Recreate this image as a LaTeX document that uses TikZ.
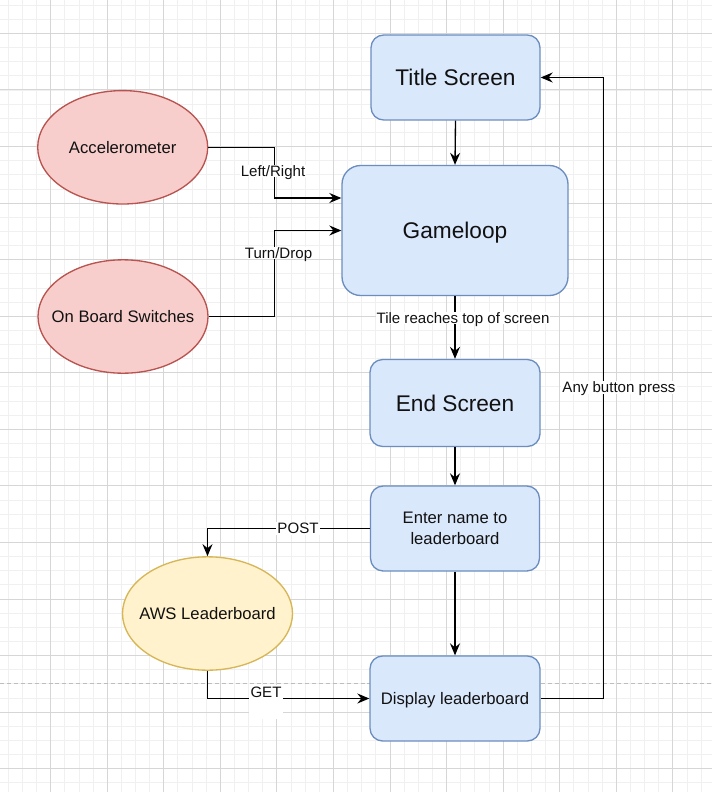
\documentclass[tikz,border=0pt]{standalone}
\usepackage{fontspec}
\setmainfont{Liberation Sans}
\usetikzlibrary{arrows.meta,shapes.geometric,calc}
\definecolor{bluefill}{HTML}{DAE8FC}
\definecolor{bluedraw}{HTML}{6C8EBF}
\definecolor{redfill}{HTML}{F8CECC}
\definecolor{reddraw}{HTML}{B85450}
\definecolor{yelfill}{HTML}{FFF2CC}
\definecolor{yeldraw}{HTML}{D6B656}
\definecolor{gridminor}{HTML}{F0F0F0}
\definecolor{gridmajor}{HTML}{D6D6D6}
\definecolor{pagebreak}{HTML}{BDBDBD}
\definecolor{txt}{HTML}{111111}
\begin{document}
\begin{tikzpicture}[x=0.75pt,y=-0.75pt,
  box/.style={draw=bluedraw, fill=bluefill, line width=1pt, rounded corners=9.5pt, inner sep=0pt, align=center, text=txt},
  bigtext/.style={font=\fontsize{17}{20}\selectfont, text height=12.2pt, text depth=0pt},
  midtext/.style={font=\fontsize{12.5}{16}\selectfont},
  oval/.style={ellipse, line width=1pt, inner sep=0pt, minimum width={170*0.75pt}, minimum height={113.4*0.75pt}, text=txt, font=\fontsize{12.5}{15}\selectfont, text height=9pt, text depth=0pt},
  conn/.style={line width=1pt, -{Stealth[length=9pt,width=7.5pt,inset=3pt]}},
  elabel/.style={fill=white, inner sep=0.75pt, text=txt, font=\fontsize{11.3}{13}\selectfont, text height=8.1pt, text depth=0pt},
  minorline/.style={draw=gridminor, line width=0.75pt},
  majorline/.style={draw=gridmajor, line width=0.75pt}
]
\useasboundingbox (0,0) rectangle (712,792);
\fill[white] (0,0) rectangle (712,792);
% grid
\foreach \i in {0,...,50} {\draw[minorline] ({8.3+14.14*\i},0) -- ({8.3+14.14*\i},792);}
\foreach \i in {0,...,56} {\draw[minorline] (0,{5.2+14.14*\i}) -- (712,{5.2+14.14*\i});}
\foreach \i in {-1,...,10} {\draw[majorline] ({107.3+56.56*\i},0) -- ({107.3+56.56*\i},792);}
\foreach \i in {-1,...,12} {\draw[majorline] (0,{90+56.56*\i}) -- (712,{90+56.56*\i});}
% page break
\draw[pagebreak, line width=0.9pt, dash pattern=on 3pt off 2.2pt] (0,683.5) -- (712,683.5);

% nodes
\node[box, bigtext, minimum width={169*0.75pt}, minimum height={85*0.75pt}] (title) at (455.5,77.5) {Title Screen};
\node[box, bigtext, rounded corners=14pt, minimum width={226*0.75pt}, minimum height={130*0.75pt}] (game) at (455,230.5) {Gameloop};
\node[box, bigtext, minimum width={170*0.75pt}, minimum height={87*0.75pt}] (endscr) at (455,403) {End Screen};
\node[box, midtext, minimum width={169*0.75pt}, minimum height={85*0.75pt}] (enter) at (455,528.5) {Enter name to\\leaderboard};
\node[box, midtext, text height=9pt, text depth=0pt, minimum width={170*0.75pt}, minimum height={85*0.75pt}] (disp) at (455,698.5) {Display leaderboard};
\node[oval, draw=reddraw, fill=redfill] (acc) at (122.7,147.3) {\makebox[0pt]{Accelerometer}};
\node[oval, draw=reddraw, fill=redfill] (sw) at (123,316.5) {\makebox[0pt]{On Board Switches}};
\node[oval, draw=yeldraw, fill=yelfill] (aws) at (207.5,613.5) {\makebox[0pt]{AWS Leaderboard}};

% connectors
\draw[conn] (title.south) -- (game.north);
\draw[conn] (acc.east) -| ($(game.west)+(-67,-32.5)$) -- ($(game.west)+(0,-32.5)$);
\draw[conn] (sw.east) -| ($(game.west)+(-67,0)$) -- (game.west);
\draw[conn] (game.south) -- (endscr.north);
\draw[conn] (endscr.south) -- (enter.north);
\draw[conn] (enter.west) -| (aws.north);
\draw[conn] (enter.south) -- (disp.north);
\draw[conn] (aws.south) |- (disp.west);
\draw[conn] (disp.east) -| ($(title.east)+(63,0)$) -- (title.east);

% labels
\node[elabel] (lr) at (273,171) {Left/Right};
\node[elabel] (td) at (278.5,253) {Turn/Drop};
\node[elabel] (tile) at (463,318) {Tile reaches top of screen};
\node[elabel] (post) at (298,528.5) {POST};
\node[elabel, text height=8.25pt, text depth=15.75pt, anchor=north, inner xsep=1.5pt] (get) at (266,685) {GET};
\node[elabel] (anyb) at (619,387.3) {Any button press};
\end{tikzpicture}
\end{document}
